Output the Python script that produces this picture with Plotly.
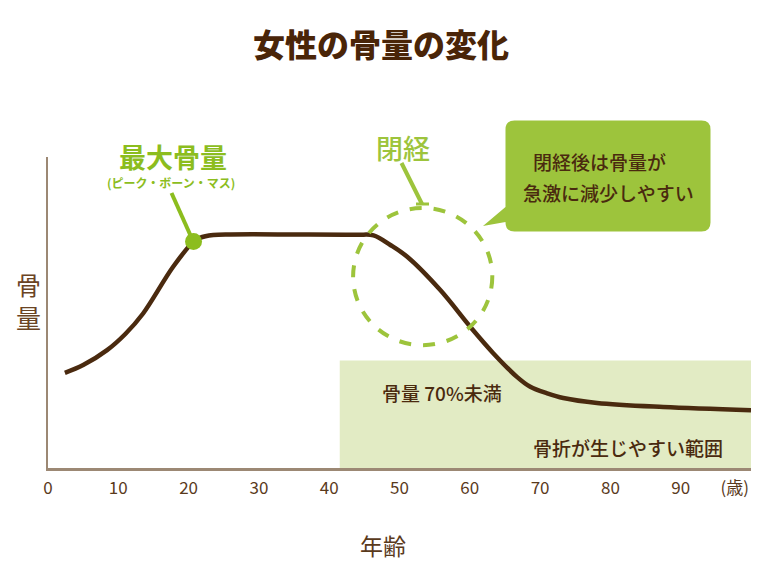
import plotly.graph_objects as go

# ---------------- data ----------------
ages = [2.4, 5, 8.4, 11, 13.5, 17.8, 20.7, 21.6, 23.5, 26, 35, 44, 46.3, 48.7,
        51.1, 55.8, 60.1, 63.3, 66.7, 68.6, 71, 73.3, 78.1, 87.5, 100]
bone_mass = [30.6, 33.1, 37.9, 43.1, 49.6, 64.7, 72.8, 74.0, 74.9, 75.1, 75.1, 75.0, 74.8, 71.7,
             67.9, 57.2, 45.3, 37.0, 29.3, 26.1, 24.0, 22.5, 20.9, 19.6, 18.6]
peak_age = [20.7]
peak_value = [72.8]

tick_vals = [0, 10, 20, 30, 40, 50, 60, 70, 80, 90, 97.7]
tick_text = ["0", "10", "20", "30", "40", "50", "60", "70", "80", "90", "(歳)"]

fracture_zone_age = [41.5, 100]
fracture_zone_mass = [0, 34.6]
menopause_age = [43.4, 63.2]
menopause_mass = [39.5, 83.6]

# ---------------- styles ----------------
FONT = "Noto Sans CJK JP"
BROWN = "#4a2a0f"
TEXT_BROWN = "#5a3a1c"
GREEN_DARK = "#8cbd1e"
GREEN = "#9dc43c"
LIGHT_GREEN = "#e2ebc4"
AXIS = "#9c8874"

W, H = 760, 570
L, R, T, B = 48, 9, 157, 102
PW, PH = W - L - R, H - T - B


def px(xp):
    return (xp - L) / PW


def py(yp):
    return (H - B - yp) / PH


fig = go.Figure()

fig.add_trace(go.Scatter(
    x=ages, y=bone_mass, mode="lines",
    line=dict(color=BROWN, width=4.5, shape="spline", smoothing=1.0),
    hoverinfo="skip", showlegend=False,
))

fig.add_trace(go.Scatter(
    x=peak_age, y=peak_value, mode="markers",
    marker=dict(color=GREEN_DARK, size=17, line=dict(width=0)),
    hoverinfo="skip", showlegend=False,
))

shapes = []
# fracture-prone zone
shapes.append(dict(type="rect", xref="x", yref="y",
                   x0=fracture_zone_age[0], x1=fracture_zone_age[1],
                   y0=fracture_zone_mass[0], y1=fracture_zone_mass[1],
                   fillcolor=LIGHT_GREEN, line=dict(width=0), layer="below"))
# menopause dashed circle
shapes.append(dict(type="circle", xref="x", yref="y",
                   x0=menopause_age[0], x1=menopause_age[1],
                   y0=menopause_mass[0], y1=menopause_mass[1],
                   line=dict(color=GREEN, width=4, dash="dash"), layer="above"))
# leader for peak bone mass
shapes.append(dict(type="line", xref="paper", yref="paper",
                   x0=px(171.5), y0=py(193), x1=px(193), y1=py(241),
                   line=dict(color=GREEN_DARK, width=4)))
# leader for menopause
shapes.append(dict(type="line", xref="paper", yref="paper",
                   x0=px(401.5), y0=py(163), x1=px(422), y1=py(204),
                   line=dict(color=GREEN, width=4)))
shapes.append(dict(type="line", xref="paper", yref="paper",
                   x0=px(416), y0=py(204), x1=px(429), y1=py(204),
                   line=dict(color=GREEN, width=3)))

# callout box (rounded rect with pointer)
bx0, bx1, by0, by1, r = 505.5, 710.5, 120.5, 231.5, 9


def P(xp, yp):
    return f"{px(xp):.5f},{py(yp):.5f}"


path = (
    f"M {P(bx0 + r, by0)} L {P(bx1 - r, by0)} "
    f"Q {P(bx1, by0)} {P(bx1, by0 + r)} "
    f"L {P(bx1, by1 - r)} Q {P(bx1, by1)} {P(bx1 - r, by1)} "
    f"L {P(bx0 + r, by1)} Q {P(bx0, by1)} {P(bx0, by1 - r)} "
    f"L {P(bx0, 222)} L {P(483, 226)} L {P(bx0, 207)} "
    f"L {P(bx0, by0 + r)} Q {P(bx0, by0)} {P(bx0 + r, by0)} Z"
)
shapes.append(dict(type="path", xref="paper", yref="paper", path=path,
                   fillcolor=GREEN, line=dict(width=0)))

annotations = []


def ann(text, xp, yp, size, color, weight=400, xanchor="center"):
    annotations.append(dict(
        text=text, xref="paper", yref="paper", x=px(xp), y=py(yp),
        xanchor=xanchor, yanchor="middle", showarrow=False,
        font=dict(family=FONT, size=size, color=color, weight=weight),
    ))


ann("女性の骨量の変化", 381, 43, 32, "#4a2508", 900)
ann("最大骨量", 173, 156, 27, GREEN_DARK, 700)
ann("(ピーク・ボーン・マス)", 171, 182, 12, GREEN_DARK, 700)
ann("閉経", 403, 147, 27, GREEN, 500)
ann("閉経後は骨量が", 599, 162, 19, BROWN, 500)
ann("急激に減少しやすい", 608, 192, 19, BROWN, 500)
ann("骨量 70%未満", 442, 392, 19, BROWN, 500)
ann("骨折が生じやすい範囲", 628, 447, 19, BROWN, 500)
ann("骨<br>量", 28, 300, 25, "#6b4424", 400)
ann("年齢", 383, 545, 23, TEXT_BROWN, 400)

fig.update_layout(
    width=W, height=H,
    margin=dict(l=L, r=R, t=T, b=B, pad=0),
    paper_bgcolor="white", plot_bgcolor="white",
    shapes=shapes, annotations=annotations,
    font=dict(family=FONT),
    xaxis=dict(range=[0, 100], showgrid=False, zeroline=False,
               showline=True, linecolor=AXIS, linewidth=2.5,
               tickvals=tick_vals, ticktext=tick_text,
               ticks="outside", ticklen=3, tickcolor="rgba(0,0,0,0)",
               tickfont=dict(family=FONT, size=17, color=TEXT_BROWN),
               fixedrange=True),
    yaxis=dict(range=[0, 100], showgrid=False, zeroline=False,
               showline=True, linecolor=AXIS, linewidth=1.5,
               showticklabels=False, ticks="", fixedrange=True),
)

fig.write_html("out.html")
